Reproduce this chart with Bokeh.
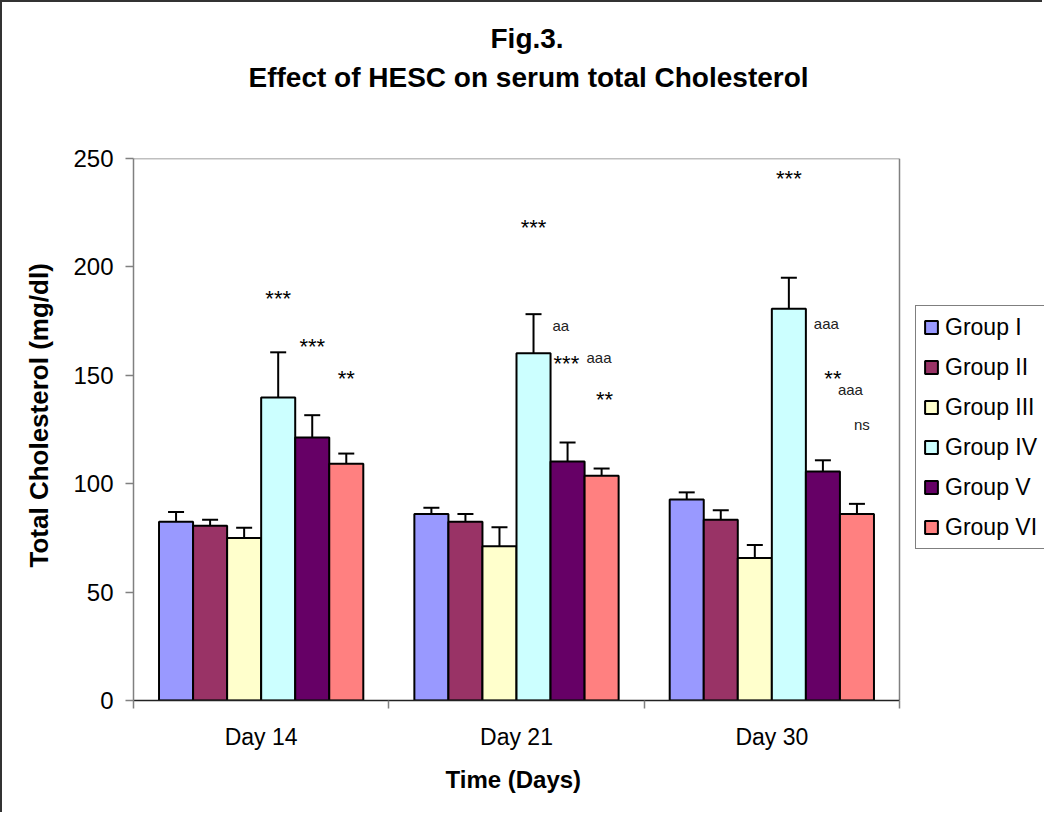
from bokeh.plotting import figure
from bokeh.models import (Range1d, FixedTicker, ColumnDataSource, Whisker, TeeHead,
                          Legend, LegendItem, Title)
from bokeh.core.properties import value
from bokeh.embed import file_html
from bokeh.resources import INLINE

# ---------------- data ----------------
days = ["Day 14", "Day 21", "Day 30"]
groups = ["Group I", "Group II", "Group III", "Group IV", "Group V", "Group VI"]
colors = ["#9999FF", "#993366", "#FFFFCC", "#CCFFFF", "#660066", "#FF8080"]

means = {
    "Group I":   [82.4, 86.0, 92.7],
    "Group II":  [80.6, 82.4, 83.4],
    "Group III": [75.0, 71.1, 65.7],
    "Group IV":  [139.8, 160.2, 180.7],
    "Group V":   [121.3, 110.2, 105.6],
    "Group VI":  [109.2, 103.7, 86.0],
}
errors = {
    "Group I":   [4.6, 2.9, 3.3],
    "Group II":  [2.8, 3.6, 4.3],
    "Group III": [4.7, 8.8, 6.0],
    "Group IV":  [20.8, 18.0, 14.3],
    "Group V":   [10.3, 8.8, 5.2],
    "Group VI":  [4.7, 3.3, 4.7],
}

# significance annotations: (day index, group index, text, y level, x shift px, align)
ann_day   = [0, 0, 0, 1, 1, 1, 1, 1, 2, 2, 2, 2, 2]
ann_group = [3, 4, 5, 3, 3, 3, 3, 5, 3, 3, 4, 4, 5]
ann_text  = ["***", "***", "**", "***", "aa", "***", "aaa", "**", "***", "aaa", "**", "aaa", "ns"]
ann_y     = [188, 166, 151.5, 221, 173, 158, 158, 141.5, 243.5, 174, 151.5, 143.5, 127.5]
ann_dx    = [0, 0, 0, 0, 19, 20, 53, 3, 0, 25, 10, 15, 5]
ann_align = ["center", "center", "center", "center", "left", "left", "left", "center",
             "center", "left", "center", "left", "center"]

y_ticks = [0, 50, 100, 150, 200, 250]
y_max = 250

# ---------------- figure ----------------
FONT = "Liberation Sans"
ndays = len(days)
plot_px = 766          # width of the bar area in pixels
extra_px = 145         # room on the right for the legend
x_end = ndays * (plot_px + extra_px) / plot_px

p = figure(width=1042, height=812, output_backend="svg", toolbar_location=None,
           x_range=Range1d(0, x_end), y_range=Range1d(0, y_max),
           min_border_left=131, min_border_right=0, min_border_top=156, min_border_bottom=114)
p.styles = {"border-left": "2px solid #333333", "border-top": "2px solid #333333"}
p.background_fill_color = "white"
p.border_fill_color = "white"
p.outline_line_color = None
p.xgrid.visible = False
p.ygrid.visible = False

# plot-area border (top and right) ending at the last category
p.segment(x0=[0, ndays], y0=[y_max, 0], x1=[ndays, ndays], y1=[y_max, y_max],
          line_color="#808080", line_width=1.5)

ngroups = len(groups)
span = 0.8
bw = span / ngroups

def bar_x(d, g):
    return d + 0.5 + (g - (ngroups - 1) / 2) * bw

items = []
for g, name in enumerate(groups):
    xs = [bar_x(d, g) for d in range(ndays)]
    m = means[name]
    e = errors[name]
    src = ColumnDataSource(dict(x=xs, top=m, upper=[a + b for a, b in zip(m, e)],
                                lower=[a - b for a, b in zip(m, e)]))
    r = p.vbar(x="x", top="top", bottom=0, width=bw, source=src,
               fill_color=colors[g], line_color="black", line_width=2)
    items.append(LegendItem(label=name, renderers=[r]))
    w = Whisker(base="x", upper="upper", lower="lower", source=src,
                line_color="black", line_width=2,
                upper_head=TeeHead(size=16, line_color="black", line_width=2),
                lower_head=TeeHead(size=16, line_color="black", line_width=2))
    p.add_layout(w)

# annotations
ax = [bar_x(d, g) for d, g in zip(ann_day, ann_group)]
is_star = [t.startswith("*") for t in ann_text]
src_a = ColumnDataSource(dict(
    x=ax, y=ann_y, text=ann_text, dx=ann_dx, align=ann_align,
    size=["22px" if s else "15px" for s in is_star],
    dy=[6 if s else 0 for s in is_star],
    color=["#000000" if s else "#222222" for s in is_star],
))
p.text(x="x", y="y", text="text", x_offset="dx", y_offset="dy", text_align="align",
       text_baseline="middle", text_font_size="size", text_color="color",
       text_font=value(FONT), source=src_a)

# legend
legend = Legend(items=items, location=(782, 151), margin=0, padding=7,
                spacing=12, label_height=28, glyph_width=16, glyph_height=16,
                label_standoff=6, label_text_font=FONT, label_text_font_size="23px",
                label_text_color="black",
                border_line_color="#000000", border_line_width=1,
                background_fill_color="white", background_fill_alpha=1)
p.add_layout(legend, "center")

# axes
p.yaxis.ticker = FixedTicker(ticks=y_ticks)
p.yaxis.major_label_text_font = FONT
p.yaxis.major_label_text_font_size = "24px"
p.yaxis.major_label_text_color = "black"
p.yaxis.major_label_standoff = 12
p.yaxis.major_tick_out = 8
p.yaxis.major_tick_in = 0
p.yaxis.minor_tick_line_color = None
p.yaxis.axis_line_color = "#808080"
p.yaxis.axis_line_width = 1.5
p.yaxis.major_tick_line_color = "#808080"
p.yaxis.major_tick_line_width = 1.5

centers = [d + 0.5 for d in range(ndays)]
p.xaxis.bounds = (0, ndays)
p.xaxis.ticker = FixedTicker(ticks=centers, minor_ticks=list(range(ndays + 1)))
p.xaxis.major_label_overrides = {c: lab for c, lab in zip(centers, days)}
p.xaxis.major_tick_line_color = None
p.xaxis.major_tick_out = 0
p.xaxis.major_tick_in = 0
p.xaxis.minor_tick_out = 8
p.xaxis.minor_tick_in = 0
p.xaxis.minor_tick_line_color = "#808080"
p.xaxis.minor_tick_line_width = 1.5
p.xaxis.axis_line_color = "#222222"
p.xaxis.axis_line_width = 1.5
p.xaxis.major_label_text_font = FONT
p.xaxis.major_label_text_font_size = "23px"
p.xaxis.major_label_text_color = "black"
p.xaxis.major_label_standoff = 15

# axis titles placed as side titles so they centre on the bar area
p.add_layout(Title(text="Time (Days)", align="left", offset=312, standoff=22,
                   text_font=FONT, text_font_style="bold", text_font_size="24px",
                   text_color="black"), "below")
p.add_layout(Title(text="Total Cholesterol (mg/dl)", align="left", offset=133, standoff=34,
                   text_font=FONT, text_font_style="bold", text_font_size="26px",
                   text_color="black"), "left")

# titles (first added is nearest the plot); a thin spacer keeps them high up
p.add_layout(Title(text=" ", text_font_size="1px", standoff=59), "above")
p.add_layout(Title(text="Effect of HESC on serum total Cholesterol", align="left",
                   text_font=FONT, text_font_style="bold", text_font_size="28px",
                   text_color="black", offset=115, standoff=8), "above")
p.add_layout(Title(text="Fig.3.", align="left",
                   text_font=FONT, text_font_style="bold", text_font_size="28px",
                   text_color="black", offset=357, standoff=3), "above")

open("out.html", "w").write(file_html(p, INLINE))
